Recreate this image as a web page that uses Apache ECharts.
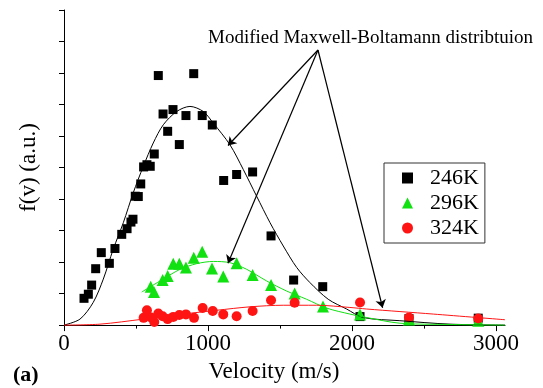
<!DOCTYPE html>
<html>
<head>
<meta charset="utf-8">
<script src="https://cdn.jsdelivr.net/npm/echarts@6/dist/echarts.min.js"></script>
<style>
  html, body { margin: 0; padding: 0; background: #fff; }
  #chart { width: 543px; height: 388px; }
</style>
</head>
<body>
<div id="chart"></div>
<script>
// measured points, velocity (m/s) vs f(v) (a.u.)
var v246 = [139, 169, 192, 220, 259, 315, 354, 401, 438, 465, 479, 495, 516, 533, 553, 576, 599, 627, 655, 688, 720, 757, 801, 847, 901, 960, 1030, 1109, 1199, 1310, 1438, 1595, 1797, 2056, 2396, 2877];
var f246 = [0.85, 0.98, 1.27, 1.79, 2.30, 1.96, 2.43, 2.88, 3.06, 3.27, 3.36, 4.09, 4.08, 4.48, 5.02, 5.09, 5.04, 5.43, 7.92, 6.70, 6.15, 6.84, 5.73, 6.65, 7.98, 6.65, 6.35, 4.59, 4.78, 4.86, 2.83, 1.43, 1.22, 0.27, 0.21, 0.22];

var v296 = [602, 625, 685, 720, 759, 801, 847, 901, 960, 1028, 1106, 1199, 1310, 1438, 1602, 1799, 2056, 2396, 2877];
var f296 = [1.22, 1.05, 1.43, 1.56, 1.95, 1.95, 1.83, 2.14, 2.33, 1.80, 1.54, 1.96, 1.59, 1.27, 1.00, 0.59, 0.34, 0.18, 0.14];

var v324 = [553, 576, 604, 627, 655, 685, 720, 759, 801, 847, 903, 963, 1033, 1106, 1199, 1310, 1438, 1602, 2056, 2396, 2877];
var f324 = [0.23, 0.47, 0.24, 0.10, 0.37, 0.28, 0.19, 0.26, 0.32, 0.34, 0.23, 0.54, 0.45, 0.34, 0.28, 0.45, 0.79, 0.71, 0.72, 0.24, 0.21];

// fitted curves (modified Maxwell-Boltzmann)
var fitV246 = [0, 111, 203, 273, 342, 412, 481, 551, 620, 690, 783, 875, 967, 1037, 1153, 1245, 1338, 1431, 1523, 1616, 1708, 1835, 1963, 2078, 2333, 2681, 3063];
var fitF246 = [0, 0.19, 0.72, 1.46, 2.41, 3.25, 4.20, 5.04, 5.78, 6.36, 6.78, 6.94, 6.78, 6.41, 5.72, 4.94, 4.09, 3.25, 2.51, 1.83, 1.35, 0.82, 0.51, 0.24, 0.14, 0.03, 0];

var fitV296 = [540, 667, 806, 922, 1037, 1153, 1269, 1408, 1547, 1685, 1824, 1986, 2102, 2333, 2681, 3063];
var fitF296 = [1.05, 1.40, 1.77, 1.95, 2.02, 1.98, 1.77, 1.40, 1.08, 0.82, 0.54, 0.35, 0.24, 0.06, 0.02, 0];

var fitV324 = [0, 250, 551, 828, 1060, 1292, 1523, 1755, 1986, 2102, 2565, 3063];
var fitF324 = [0, 0.03, 0.19, 0.35, 0.47, 0.58, 0.63, 0.63, 0.56, 0.51, 0.35, 0.17];

var seriesNames = ["246K", "296K", "324K"];
var xTicks = [0, 1000, 2000, 3000];
var xMinorTicks = [500, 1500, 2500];

// annotation arrows: common start, three tips
var arrowFrom = [1764, 8.73];
var arrowTo = [[1139, 5.70], [1139, 1.96], [2213, 0.55]];

function pairs(xs, ys) {
  return xs.map(function (x, i) { return [x, ys[i]]; });
}

var serif = "Liberation Serif";
var green = "#11e011";
var red = "#ff1414";

var chart = echarts.init(document.getElementById("chart"));
chart.setOption({
  animation: false,
  grid: { left: 64, top: 10, right: 38, bottom: 62 },
  legend: {
    data: [
      { name: seriesNames[0], icon: "rect" },
      { name: seriesNames[1], icon: "triangle" },
      { name: seriesNames[2], icon: "circle" }
    ],
    orient: "vertical",
    left: 384,
    top: 163,
    padding: [4, 6, 4, 18],
    itemGap: 3,
    itemWidth: 11,
    itemHeight: 11,
    borderColor: "#333",
    borderWidth: 1,
    selectedMode: false,
    textStyle: { fontFamily: serif, fontSize: 22, color: "#000", padding: [0, 0, 0, 12] }
  },
  xAxis: [
    {
      type: "value",
      min: 0,
      max: 3063,
      interval: 1000,
      splitLine: { show: false },
      axisLine: { lineStyle: { color: "#000", width: 1 } },
      axisTick: { customValues: xTicks, length: 6, lineStyle: { color: "#000" } },
      axisLabel: {
        customValues: xTicks, margin: 7, fontFamily: serif, fontSize: 23, color: "#000",
        formatter: function (v) { return String(v); }
      },
      name: "Velocity (m/s)",
      nameLocation: "middle",
      nameGap: 34,
      nameTextStyle: { fontFamily: serif, fontSize: 23, color: "#000", padding: [0, 21, 0, 0] }
    },
    {
      // minor ticks only
      type: "value",
      position: "bottom",
      min: 0,
      max: 3063,
      splitLine: { show: false },
      axisLine: { show: false },
      axisTick: { customValues: xMinorTicks, length: 3.5, lineStyle: { color: "#000" } },
      axisLabel: { show: false }
    }
  ],
  yAxis: {
    type: "value",
    min: 0,
    max: 10,
    interval: 1,
    splitLine: { show: false },
    axisLine: { show: true, lineStyle: { color: "#000", width: 1 } },
    axisTick: { show: true, length: 5, lineStyle: { color: "#000" } },
    axisLabel: { show: false },
    name: "f(v) (a.u.)",
    nameLocation: "middle",
    nameRotate: 90,
    nameGap: 24,
    nameTextStyle: { fontFamily: serif, fontSize: 23, color: "#000" }
  },
  graphic: [
    {
      type: "text",
      x: 208,
      y: 38,
      style: { text: "Modified Maxwell-Boltamann distribtuion", fontFamily: serif, fontSize: 19, fill: "#000", verticalAlign: "middle" }
    },
    {
      type: "text",
      x: 13,
      y: 375,
      style: { text: "(a)", fontFamily: serif, fontSize: 22, fontWeight: "bold", fill: "#000", verticalAlign: "middle" }
    }
  ],
  series: [
    {
      name: "fit246",
      type: "line",
      data: pairs(fitV246, fitF246),
      smooth: 0.3,
      showSymbol: false,
      clip: false,
      lineStyle: { color: "#000", width: 1 },
      markLine: {
        silent: true,
        symbol: ["none", "arrow"],
        symbolSize: 8,
        label: { show: false },
        lineStyle: { color: "#000", width: 1.2, type: "solid" },
        data: arrowTo.map(function (p) {
          return [{ coord: arrowFrom }, { coord: p }];
        })
      }
    },
    {
      name: "fit296",
      type: "line",
      data: pairs(fitV296, fitF296),
      smooth: 0.3,
      showSymbol: false,
      clip: false,
      lineStyle: { color: green, width: 1 }
    },
    {
      name: "fit324",
      type: "line",
      data: pairs(fitV324, fitF324),
      smooth: 0.3,
      showSymbol: false,
      clip: false,
      lineStyle: { color: red, width: 1 }
    },
    {
      name: seriesNames[0],
      type: "scatter",
      symbol: "rect",
      symbolSize: 9,
      itemStyle: { color: "#000", opacity: 1 },
      data: pairs(v246, f246)
    },
    {
      name: seriesNames[1],
      type: "scatter",
      symbol: "triangle",
      symbolSize: 12,
      itemStyle: { color: green, opacity: 1 },
      data: pairs(v296, f296)
    },
    {
      name: seriesNames[2],
      type: "scatter",
      symbol: "circle",
      symbolSize: 10,
      itemStyle: { color: red, opacity: 1 },
      data: pairs(v324, f324)
    }
  ]
});
</script>
</body>
</html>
